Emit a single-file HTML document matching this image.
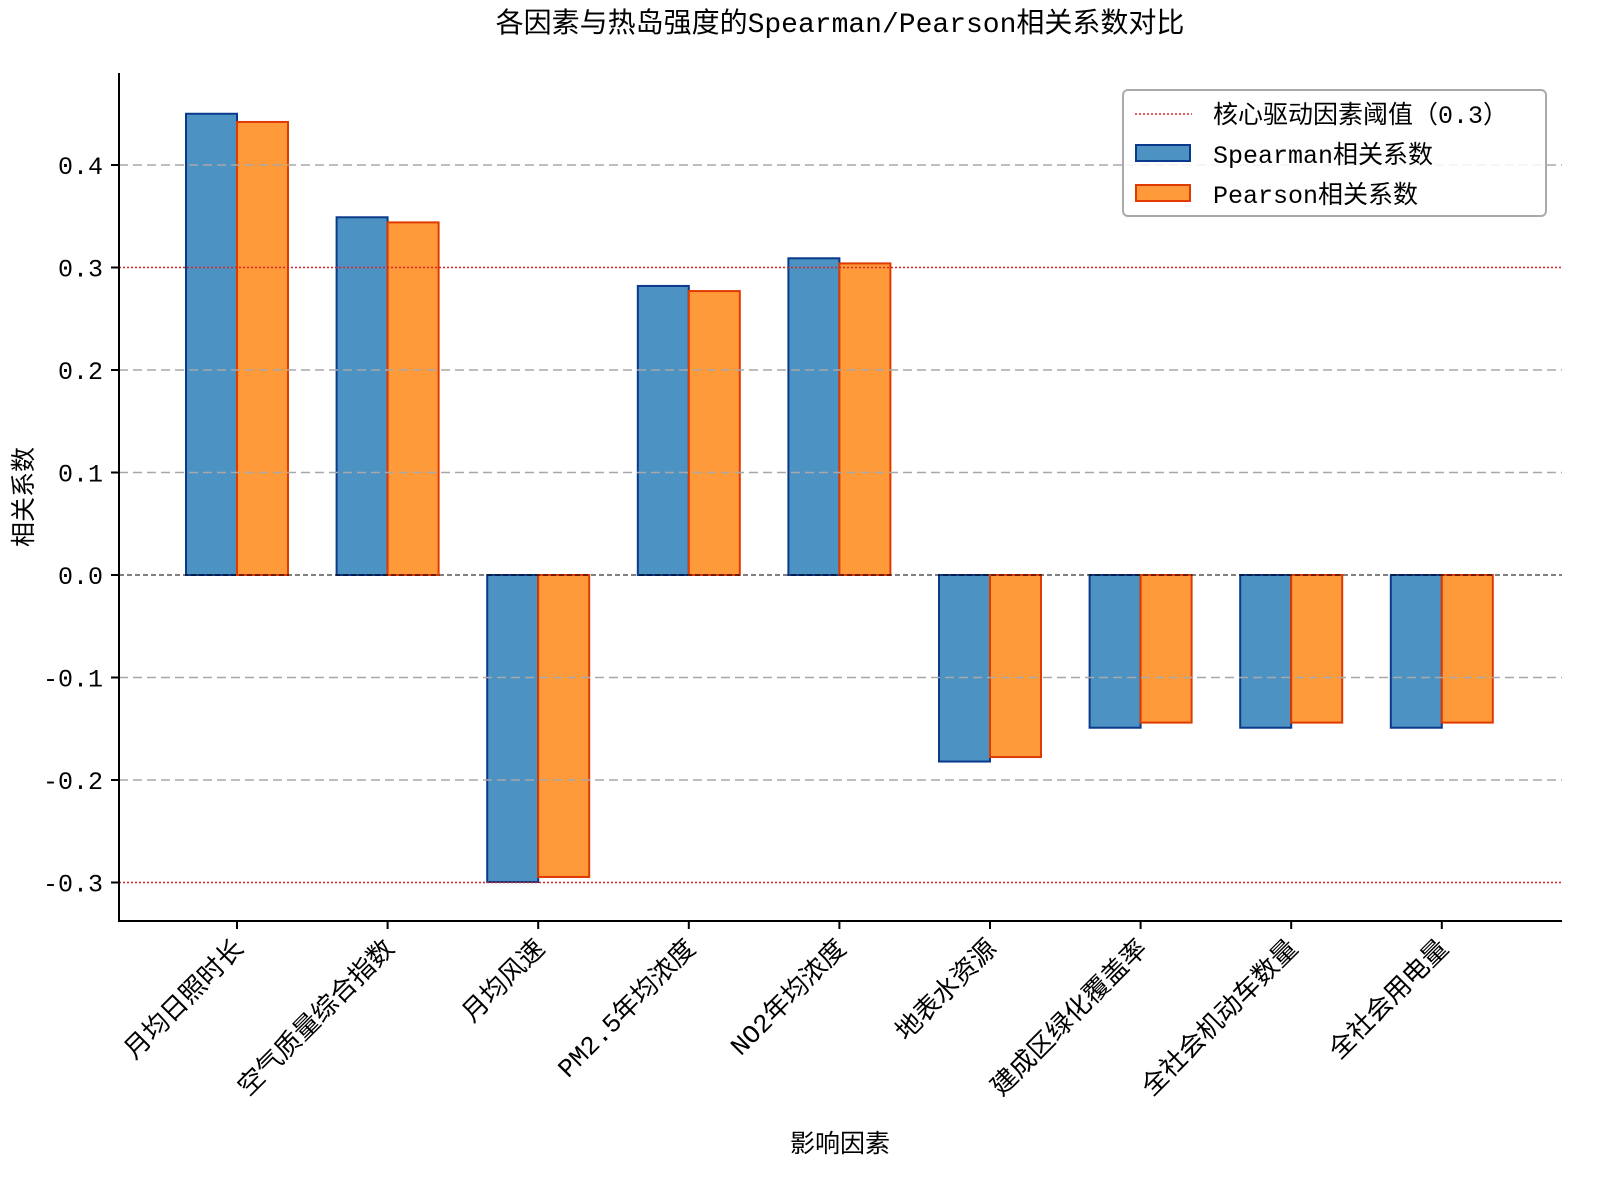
<!DOCTYPE html>
<html><head><meta charset="utf-8"><style>
body{margin:0;background:#fff}
svg{display:block}
text{font-family:"Liberation Mono","WenQuanYi Zen Hei","Noto Sans CJK SC",monospace;fill:#000}
</style></head><body>
<svg id="chart" width="1599" height="1184" xmlns="http://www.w3.org/2000/svg">
<text x="840" y="32" font-size="28" text-anchor="middle">各因素与热岛强度的Spearman/Pearson相关系数对比</text>
<g id="grid"></g>
<g id="bars"></g>
<g id="axes"></g>
<text x="840" y="1152" font-size="25" text-anchor="middle">影响因素</text>
<text transform="translate(32,497) rotate(-90)" font-size="25" text-anchor="middle">相关系数</text>
<g>
<rect x="1123" y="90" width="423" height="126" rx="5" fill="#fff" fill-opacity="0.85" stroke="#aaa" stroke-width="2"/>
<line x1="1135" y1="114" x2="1192" y2="114" stroke="#d62728" stroke-width="1.5" stroke-dasharray="2,2"/>
<text x="1213" y="123" font-size="25">核心驱动因素阈值（0.3）</text>
<rect x="1136" y="145" width="54" height="16" fill="#4c92c3" stroke="#0b3a8c" stroke-width="2"/>
<text x="1213" y="163" font-size="25">Spearman相关系数</text>
<rect x="1136" y="185" width="54" height="16" fill="#ff9a3a" stroke="#e03a00" stroke-width="2"/>
<text x="1213" y="203" font-size="25">Pearson相关系数</text>
</g>
</svg>
<script>
const categories=["月均日照时长","空气质量综合指数","月均风速","PM2.5年均浓度","NO2年均浓度","地表水资源","建成区绿化覆盖率","全社会机动车数量","全社会用电量"];
const spearman=[0.45,0.349,-0.2995,0.282,0.309,-0.182,-0.149,-0.149,-0.149];
const pearson=[0.442,0.344,-0.2946,0.277,0.304,-0.1776,-0.144,-0.144,-0.144];
const yTicks=[-0.3,-0.2,-0.1,0.0,0.1,0.2,0.3,0.4];
const threshold=[0.3,-0.3];
const NS="http://www.w3.org/2000/svg";
const y=v=>575-v*1025;
const x=i=>237+i*150.6;
const bw=51;
function mk(tag,attrs,parent){const e=document.createElementNS(NS,tag);for(const k in attrs)e.setAttribute(k,attrs[k]);parent.appendChild(e);return e;}
const grid=document.getElementById('grid'),bars=document.getElementById('bars'),axes=document.getElementById('axes');
categories.forEach((c,i)=>{
  const s=spearman[i],p=pearson[i];
  const r1=mk('rect',{x:x(i)-bw,y:Math.min(y(s),y(0)),width:bw,height:Math.abs(y(s)-y(0)),fill:'#4c92c3',stroke:'#0b3a8c','stroke-width':2},bars);
  
  
  const r2=mk('rect',{x:x(i),y:Math.min(y(p),y(0)),width:bw,height:Math.abs(y(p)-y(0)),fill:'#ff9a3a',stroke:'#e03a00','stroke-width':2},bars);
  
  
  const t=mk('line',{x1:x(i),x2:x(i),y1:921,y2:929,stroke:'#000','stroke-width':2},axes);
  
  
  const lb=mk('text',{x:0,y:0,'font-size':26,'text-anchor':'end',transform:`translate(${x(i)+8},${950}) rotate(-45)`},axes);
  lb.textContent=c;
  
  
});
yTicks.forEach(v=>{
  if(Math.abs(v)>1e-9 && !threshold.some(t=>Math.abs(t-v)<1e-9)){
    const g=mk('line',{x1:119,x2:1562,y1:y(v),y2:y(v),stroke:'#a8a8a8','stroke-width':1.5,'stroke-dasharray':'9,5'},axes);
    
    
  }
  const t=mk('line',{x1:111,x2:119,y1:y(v),y2:y(v),stroke:'#000','stroke-width':2},axes);
  
  
  const lb=mk('text',{x:103,y:y(v)+9,'font-size':25,'text-anchor':'end'},axes);
  lb.textContent=(v<0?'-':'')+Math.abs(v).toFixed(1);
  
  
});
threshold.forEach(v=>{
  const l=mk('line',{x1:119,x2:1562,y1:y(v),y2:y(v),stroke:'#d62728','stroke-width':1.5,'stroke-dasharray':'2,2'},axes);
  
  
});
const z=mk('line',{x1:119,x2:1562,y1:y(0),y2:y(0),stroke:'#000','stroke-width':1,'stroke-dasharray':'5,3'},axes);


const ls=mk('line',{x1:119,x2:119,y1:73,y2:922,stroke:'#000','stroke-width':2},axes);


const bs=mk('line',{x1:118,x2:1562,y1:921,y2:921,stroke:'#000','stroke-width':2},axes);


</script>
</body></html>
